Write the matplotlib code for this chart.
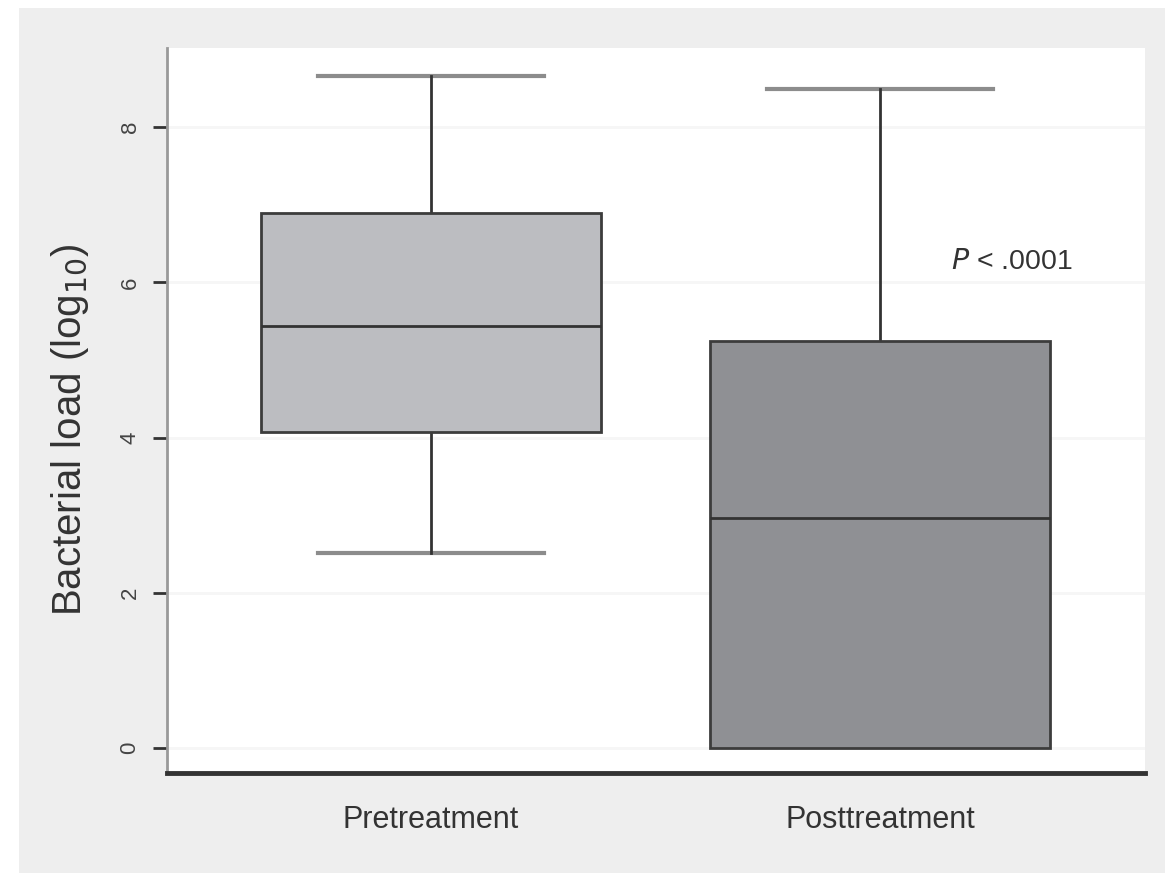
import matplotlib
matplotlib.use("Agg")
import matplotlib.pyplot as plt
from matplotlib.patches import Rectangle

# box plot summary values (log10 bacterial load)
groups = ["Pretreatment", "Posttreatment"]
whisker_low = [2.51, 0.0]
q1 = [4.07, 0.0]
medians = [5.44, 2.96]
q3 = [6.89, 5.24]
whisker_high = [8.66, 8.49]
box_colors = ["#bcbdc1", "#8f9094"]
yticks = [0, 2, 4, 6, 8]
p_text = "$\\mathit{P}$ < .0001"

plt.rcParams['font.family'] = ['Liberation Sans', 'DejaVu Sans']

fig = plt.figure(figsize=(11.65, 8.81), dpi=100)
fig.patch.set_facecolor("white")
# grey panel behind the graph
fig.patches.append(Rectangle((19 / 1165, 8 / 881), 1 - 19 / 1165, 1 - 16 / 881,
                             transform=fig.transFigure, facecolor="#eeeeee",
                             edgecolor="none", zorder=-1))

ax = fig.add_axes([167 / 1165, 1 - 773 / 881, (1145 - 167) / 1165, (773 - 48) / 881])
ax.set_facecolor("white")

stats = []
for i in range(len(groups)):
    stats.append({"label": groups[i], "whislo": whisker_low[i], "q1": q1[i],
                  "med": medians[i], "q3": q3[i], "whishi": whisker_high[i]})

bp = ax.bxp(stats, positions=[1, 2], widths=0.757, capwidths=0.503,
            showfliers=False, patch_artist=True,
            boxprops=dict(edgecolor="#3c3c3c", linewidth=2),
            medianprops=dict(color="#333333", linewidth=2),
            whiskerprops=dict(color="#333333", linewidth=2),
            capprops=dict(color="#8c8c8c", linewidth=3))
for patch, c in zip(bp["boxes"], box_colors):
    patch.set_facecolor(c)
for w in bp["whiskers"]:
    w.set_zorder(1.5)
for cap in bp["caps"]:
    cap.set_zorder(1.4)
# lower cap of the second box sits on the box edge, not visible
bp["caps"][2].set_visible(False)

ax.set_xlim(0.412, 2.59)
ax.set_ylim(-0.32, 9.02)
ax.set_yticks(yticks)
ax.set_yticklabels([str(t) for t in yticks], rotation=90, va="center", fontsize=16,
                   color="#444444")
ax.set_xticks([1, 2])
ax.set_xticklabels(groups, fontsize=22, color="#333333")
ax.tick_params(axis="x", length=0, pad=23)
ax.tick_params(axis="y", length=10, width=2, color="#333333", pad=9)

ax.yaxis.grid(True, color="#f6f6f6", linewidth=2)
ax.set_axisbelow(True)

for side in ["top", "right"]:
    ax.spines[side].set_visible(False)
ax.spines["left"].set_color("#999999")
ax.spines["left"].set_linewidth(2)
ax.spines["bottom"].set_color("#333333")
ax.spines["bottom"].set_linewidth(3.5)

ax.set_ylabel("Bacterial load (log$_{10}$)", fontsize=29, color="#333333")
ax.yaxis.set_label_coords((91 - 167) / 978, (773 - 430) / 725)

ax.text(2.294, 6.26, p_text, ha="center", va="center", fontsize=20.5, color="#333333")

fig.savefig("out.png", dpi=100)
